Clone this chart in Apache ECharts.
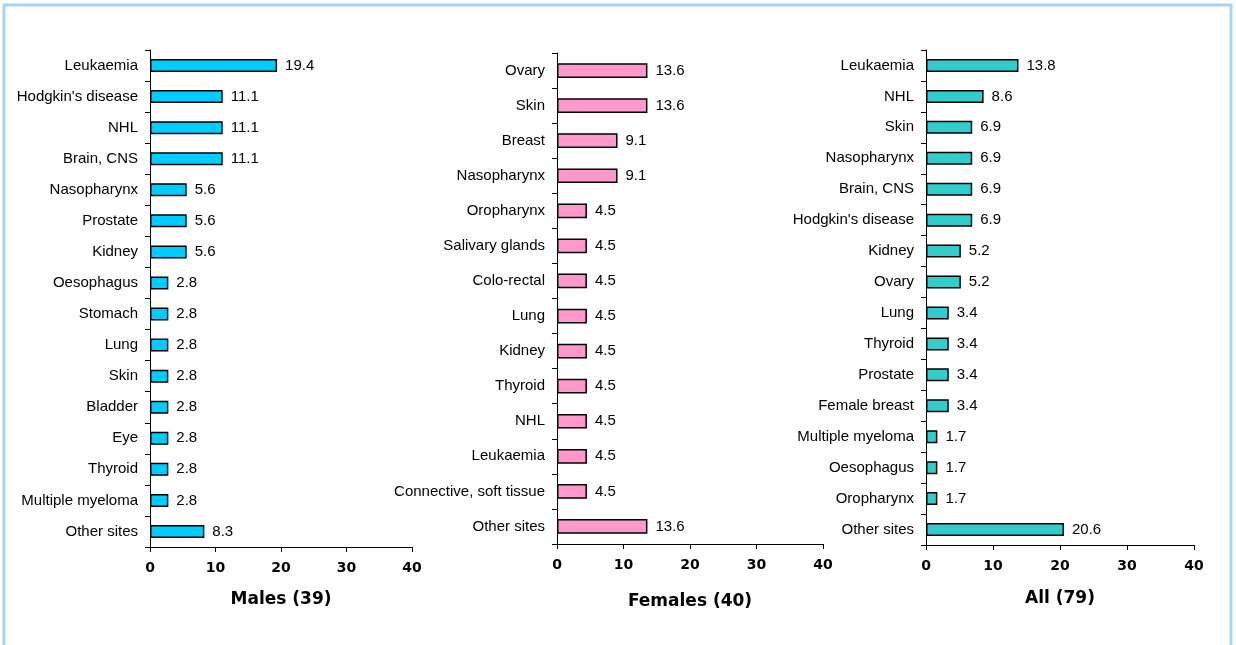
<!DOCTYPE html>
<html>
<head>
<meta charset="utf-8">
<script src="https://cdn.jsdelivr.net/npm/echarts@6/dist/echarts.min.js"></script>
<style>
  html, body { margin: 0; padding: 0; background: #ffffff; }
  #chart { width: 1236px; height: 645px; }
</style>
</head>
<body>
<div id="chart"></div>
<script>
// Cancer sites, percentage of cases, by sex
const maleSites = ['Leukaemia', "Hodgkin's disease", 'NHL', 'Brain, CNS', 'Nasopharynx', 'Prostate', 'Kidney',
  'Oesophagus', 'Stomach', 'Lung', 'Skin', 'Bladder', 'Eye', 'Thyroid', 'Multiple myeloma', 'Other sites'];
const maleValues = [19.4, 11.1, 11.1, 11.1, 5.6, 5.6, 5.6, 2.8, 2.8, 2.8, 2.8, 2.8, 2.8, 2.8, 2.8, 8.3];

const femaleSites = ['Ovary', 'Skin', 'Breast', 'Nasopharynx', 'Oropharynx', 'Salivary glands', 'Colo-rectal',
  'Lung', 'Kidney', 'Thyroid', 'NHL', 'Leukaemia', 'Connective, soft tissue', 'Other sites'];
const femaleValues = [13.6, 13.6, 9.1, 9.1, 4.5, 4.5, 4.5, 4.5, 4.5, 4.5, 4.5, 4.5, 4.5, 13.6];

const allSites = ['Leukaemia', 'NHL', 'Skin', 'Nasopharynx', 'Brain, CNS', "Hodgkin's disease", 'Kidney', 'Ovary',
  'Lung', 'Thyroid', 'Prostate', 'Female breast', 'Multiple myeloma', 'Oesophagus', 'Oropharynx', 'Other sites'];
const allValues = [13.8, 8.6, 6.9, 6.9, 6.9, 6.9, 5.2, 5.2, 3.4, 3.4, 3.4, 3.4, 1.7, 1.7, 1.7, 20.6];

const panelTitles = ['Males (39)', 'Females (40)', 'All (79)'];
const axisTicks = [0, 10, 20, 30, 40];

const TEXT_FONT = '"Liberation Sans", Arial, sans-serif';
const BOLD_FONT = '"DejaVu Sans", "Liberation Sans", Arial, sans-serif';
const panels = [
  { sites: maleSites, values: maleValues, color: '#00ccff', nameGap: 44,
    grid: { left: 150, top: 50, width: 262, height: 497 } },
  { sites: femaleSites, values: femaleValues, color: '#ff99cc', nameGap: 49,
    grid: { left: 557, top: 53, width: 266, height: 491 } },
  { sites: allSites, values: allValues, color: '#33cccc', nameGap: 45,
    grid: { left: 926, top: 50, width: 268, height: 495 } }
];

const grid = [], xAxis = [], yAxis = [], series = [];
panels.forEach((p, i) => {
  grid.push(Object.assign({ containLabel: false }, p.grid));
  xAxis.push({
    type: 'value', gridIndex: i,
    min: axisTicks[0], max: axisTicks[axisTicks.length - 1], interval: 10,
    axisLine: { show: true, lineStyle: { color: '#000', width: 1 } },
    axisTick: { show: true, length: 5, lineStyle: { color: '#000' } },
    splitLine: { show: false },
    axisLabel: { color: '#000', fontFamily: BOLD_FONT, fontWeight: 'bold', fontSize: 14, margin: 14 },
    name: panelTitles[i], nameLocation: 'middle', nameGap: p.nameGap,
    nameTextStyle: { color: '#000', fontFamily: BOLD_FONT, fontWeight: 'bold', fontSize: 17 }
  });
  yAxis.push({
    type: 'category', gridIndex: i, data: p.sites, inverse: true,
    axisLine: { show: true, lineStyle: { color: '#000', width: 1 } },
    axisTick: { show: true, length: 5, inside: false, alignWithLabel: false, lineStyle: { color: '#000' } },
    axisLabel: { color: '#000', fontFamily: TEXT_FONT, fontSize: 15, margin: 12 }
  });
  series.push({
    type: 'bar', xAxisIndex: i, yAxisIndex: i, data: p.values,
    barWidth: '42%',
    itemStyle: { color: p.color, borderColor: '#000', borderWidth: 1.5 },
    label: { show: true, position: 'right', distance: 8, color: '#000', fontFamily: TEXT_FONT, fontSize: 15,
      formatter: (d) => d.value.toFixed(1) },
    silent: true
  });
});

const chart = echarts.init(document.getElementById('chart'), null, { renderer: 'canvas' });
chart.setOption({
  animation: false,
  backgroundColor: '#ffffff',
  graphic: [{
    type: 'rect', shape: { x: 4, y: 5, width: 1227, height: 660 },
    style: { fill: 'none', stroke: '#a8d4f4', lineWidth: 3 }, silent: true
  }],
  grid, xAxis, yAxis, series
});
</script>
</body>
</html>
